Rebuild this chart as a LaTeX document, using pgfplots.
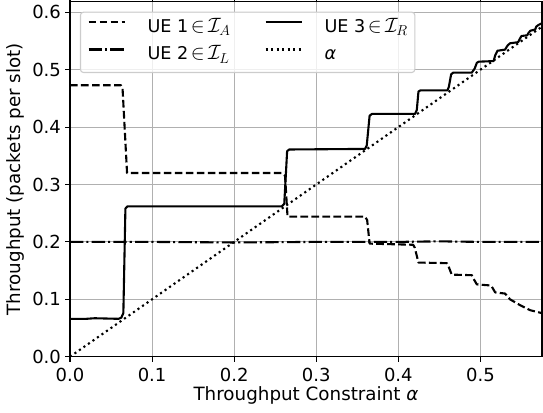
\documentclass[border=0pt]{standalone}
\usepackage{fontspec}
\setmainfont{DejaVu Sans}
\usepackage{pgfplots}
\pgfplotsset{compat=1.18}
\definecolor{gridc}{HTML}{B0B0B0}
\definecolor{legc}{HTML}{CCCCCC}
\newcommand\fst{\fontsize{18}{21}\selectfont}
\newcommand\fsl{\fontsize{18.3}{22}\selectfont}
\newcommand\fsg{\fontsize{17.6}{21}\selectfont}
\newcommand\memb[1]{\hspace{2.5pt}{\fontsize{20.5}{21}\selectfont$\in\mskip-2mu\mathcal{I}_{#1}$}}
\begin{document}
\begin{tikzpicture}
\begin{axis}[name=ax,
  scale only axis, width=472pt, height=355pt,
  xmin=0, xmax=0.575, ymin=0, ymax=0.6185,
  xtick={0,0.1,0.2,0.3,0.4,0.5},
  xticklabels={0.0,0.1,0.2,0.3,0.4,0.5},
  ytick={0,0.1,0.2,0.3,0.4,0.5,0.6},
  yticklabels={0.0,0.1,0.2,0.3,0.4,0.5,0.6},
  tick align=outside, major tick length=4.9pt,
  tick style={black, line width=1.1pt},
  axis line style={line width=1.1pt},
  xmajorgrids, ymajorgrids,
  grid style={gridc, line width=1.1pt},
  xticklabel style={font=\fst, inner sep=0pt, anchor=north, yshift=-6.7pt},
  yticklabel style={font=\fst, inner sep=0pt, anchor=east, xshift=-4pt},
  xlabel={Throughput Constraint {\itshape α}},
  ylabel={Throughput (packets per slot)},
  xlabel style={font=\fsl, at={(axis description cs:0.5,-0.122)}, anchor=base, inner sep=0pt},
  ylabel style={font=\fsl, at={(axis description cs:-0.1045,0.5)}, rotate=0, anchor=base, inner sep=0pt},
  legend style={at={(0.021,0.972)}, anchor=north west, draw=legc, line width=1.1pt,
    rounded corners=3pt, fill=white, fill opacity=0.8, text opacity=1, draw opacity=1, font=\fsg,
    inner sep=7pt, row sep=8.5pt, column sep=22pt,
    nodes={inner sep=0pt, text height=13.4pt, text depth=5.5pt},
    /tikz/every even column/.append style={column sep=34pt}},
  legend columns=2, transpose legend,
  legend cell align=left,
  legend image code/.code={\draw[#1] (0pt,6.5pt) -- (36pt,6.5pt);},
  every axis plot/.append style={line width=2.1pt, line join=round, black},
]
\addplot[dash pattern=on 7.7pt off 3.3pt] coordinates {
(0,0.473) (0.062,0.473) (0.064,0.468) (0.0695,0.320) (0.258,0.320) (0.262,0.315) (0.265,0.244)
(0.3595,0.244) (0.362,0.238) (0.365,0.197) (0.418,0.195) (0.420,0.190) (0.4245,0.164)
(0.459,0.163) (0.461,0.158) (0.465,0.143) (0.4895,0.142) (0.4915,0.136) (0.4956,0.126)
(0.513,0.124) (0.518,0.112) (0.530,0.110) (0.536,0.100) (0.548,0.090) (0.5606,0.081)
(0.5727,0.0767) (0.575,0.076)};
\addlegendentry{UE 1\memb{A}}
\addplot[dash pattern=on 13.3pt off 3pt on 2.1pt off 3.3pt] coordinates {
(0,0.200) (0.1,0.200) (0.2,0.199) (0.3,0.200) (0.4,0.200) (0.45,0.201) (0.5,0.200) (0.575,0.200)};
\addlegendentry{UE 2\memb{L}}
\addplot[solid] coordinates {
(0,0.066) (0.02,0.066) (0.03,0.067) (0.059,0.066) (0.0625,0.068) (0.065,0.076) (0.0675,0.258)
(0.070,0.262) (0.15,0.262) (0.258,0.262) (0.261,0.266) (0.2645,0.358) (0.267,0.361)
(0.3595,0.362) (0.3615,0.368) (0.365,0.420) (0.368,0.423) (0.4204,0.423) (0.4225,0.43)
(0.4245,0.462) (0.427,0.464) (0.4598,0.464) (0.4615,0.47) (0.4643,0.492) (0.467,0.495)
(0.4895,0.495) (0.493,0.502) (0.4956,0.512) (0.498,0.514) (0.516,0.515) (0.518,0.525)
(0.5207,0.533) (0.530,0.535) (0.533,0.542) (0.536,0.546) (0.546,0.548) (0.548,0.554)
(0.550,0.5587) (0.557,0.560) (0.559,0.565) (0.561,0.568) (0.5667,0.570) (0.568,0.575)
(0.5707,0.578) (0.575,0.581)};
\addlegendentry{UE 3\memb{R}}
\addplot[dash pattern=on 2.1pt off 3.4pt] coordinates {(0,0) (0.575,0.575)};
\addlegendentry{{\itshape α}}
\end{axis}
\pgfresetboundingbox
\path (ax.south west) ++(-70pt,-55.3pt) rectangle ++(543pt,412pt);
\end{tikzpicture}
\end{document}
